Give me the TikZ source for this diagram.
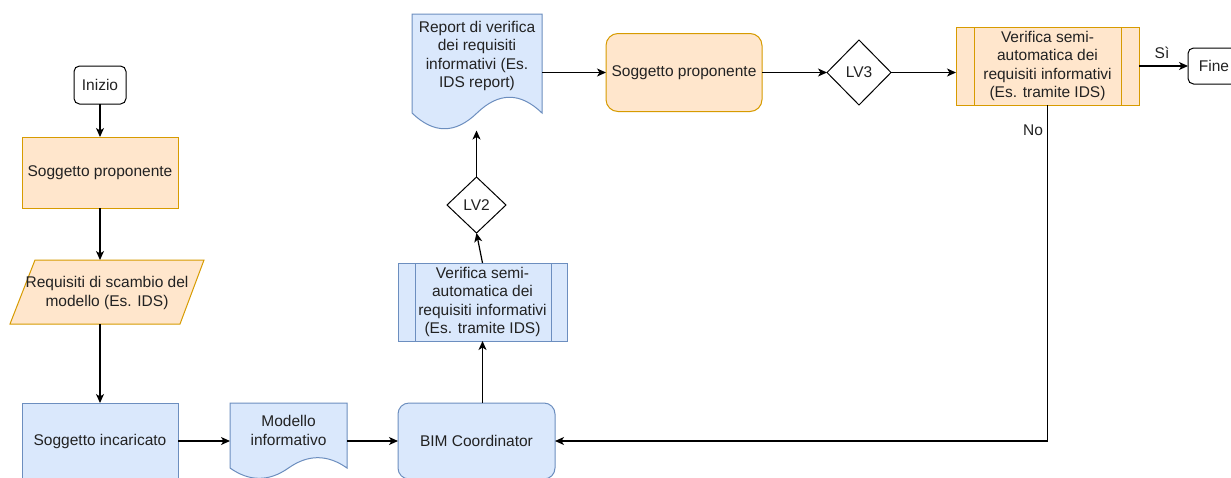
\documentclass[tikz,border=0pt]{standalone}
\usepackage{fontspec}
\setmainfont{Liberation Sans}
\usetikzlibrary{shapes.geometric,arrows.meta,calc}
\definecolor{ofill}{HTML}{FFE6CC}
\definecolor{ostroke}{HTML}{D79B00}
\definecolor{bfill}{HTML}{DAE8FC}
\definecolor{bstroke}{HTML}{6C8EBF}
\definecolor{txtc}{HTML}{222222}
\tikzset{
  base/.style={inner sep=0pt, outer sep=0pt, line width=1pt, text=txtc, align=center,
    font=\fontsize{15.5}{18.3}\selectfont},
  obox/.style={base, draw=ostroke, fill=ofill},
  bbox/.style={base, draw=bstroke, fill=bfill},
  term/.style={base, draw=black, fill=white, rounded corners=5.5pt},
  dec/.style={base, draw=black, fill=white, diamond},
  ghost/.style={base, draw=none},
  txt/.style={base, draw=none, fill=none},
  oshape/.style={line width=1pt, draw=ostroke, fill=ofill},
  bshape/.style={line width=1pt, draw=bstroke, fill=bfill},
  arr/.style={line width=1.2pt, draw=black, -{Stealth[length=9pt,width=8pt,inset=2.5pt]}},
}
\begin{document}
\begin{tikzpicture}[x=1pt,y=-1pt]
\useasboundingbox (0,0) rectangle (1231,477);
\fill[white] (0,0) rectangle (1231,477);

% left column
\node[term, minimum width=52pt, minimum height=38pt] (ini) at (100,85) {Inizio};
\node[obox, minimum width=156pt, minimum height=71pt] (sp1) at (100,172.5) {Soggetto proponente};
\path[oshape] (35,260) -- (204,260) -- (180,324) -- (10,324) -- cycle;
\node[ghost, minimum width=194pt, minimum height=64pt] (req) at (107,292) {};
\node[txt] (reqt) at (107,293) {Requisiti di scambio del\\modello (Es. IDS)};
\node[bbox, minimum width=156pt, minimum height=76pt] (si) at (100,441) {Soggetto incaricato};

% Modello informativo (document)
\path[bshape] (230,403) -- (347,403) -- (347,468)
  .. controls (327.5,454.23) and (308,454.23) .. (288.5,468)
  .. controls (269,481.77) and (249.5,481.77) .. (230,468) -- cycle;
\node[ghost, minimum width=117pt, minimum height=76.5pt] (mod) at (288.5,441.25) {};
\node[txt] (modt) at (288.5,430.5) {Modello\\informativo};

\node[bbox, rounded corners=11pt, minimum width=157pt, minimum height=76pt] (bim) at (476.5,441) {BIM Coordinator};

% Verifica (blue process)
\node[bbox, minimum width=169pt, minimum height=78pt] (vb) at (482.5,302) {Verifica semi-\\automatica dei\\requisiti informativi\\(Es. tramite IDS)};
\draw[line width=1pt, bstroke] ($(vb.north west)+(17,0)$) -- ($(vb.south west)+(17,0)$);
\draw[line width=1pt, bstroke] ($(vb.north east)+(-16,0)$) -- ($(vb.south east)+(-16,0)$);

\node[dec, minimum width=59pt, minimum height=56pt] (lv2) at (476.5,205) {LV2};

% Report (document)
\path[bshape] (412,14) -- (542,14) -- (542,113)
  .. controls (520.33,92.03) and (498.67,92.03) .. (477,113)
  .. controls (455.33,133.97) and (433.67,133.97) .. (412,113) -- cycle;
\node[ghost, minimum width=130pt, minimum height=116.5pt] (rep) at (477,72.25) {};
\node[txt] (rept) at (477,56) {Report di verifica\\dei requisiti\\informativi (Es.\\IDS report)};

\node[obox, rounded corners=12pt, minimum width=156pt, minimum height=78pt] (sp2) at (684,72.5) {Soggetto proponente};
\node[dec, minimum width=64pt, minimum height=65pt] (lv3) at (859,72.5) {LV3};

% Verifica (orange process)
\node[obox, minimum width=183pt, minimum height=78pt] (vo) at (1047.5,66) {Verifica semi-\\automatica dei\\requisiti informativi\\(Es. tramite IDS)};
\draw[line width=1pt, ostroke] ($(vo.north west)+(18,0)$) -- ($(vo.south west)+(18,0)$);
\draw[line width=1pt, ostroke] ($(vo.north east)+(-18,0)$) -- ($(vo.south east)+(-18,0)$);

\node[term, minimum width=52pt, minimum height=36pt] (fine) at (1214,66) {Fine};

% connectors
\draw[arr] (ini) -- (sp1);
\draw[arr] (sp1.south) -- (sp1.south |- req.north);
\draw[arr] (si.north |- req.south) -- (si.north);
\draw[arr] (si.east) -- (si.east -| mod.west);
\draw[arr] (bim.west -| mod.east) -- (bim.west);
\draw[arr] (vb.south |- bim.north) -- (vb.south);
\draw[arr] (vb.north) -- (lv2.south);
\draw[arr] (lv2.north) -- (lv2.north |- rep.south);
\draw[arr] (sp2.west -| rep.east) -- (sp2.west);
\draw[arr] (sp2.east) -- (lv3.west);
\draw[arr] (lv3.east) -- (lv3.east -| vo.west);
\draw[arr] (vo.east) -- (fine.west);
\node[txt] (si_lbl) at (1162,53) {Sì};
\draw[arr] (vo.south) |- (bim.east);
\node[txt] (no_lbl) at (1033,130) {No};
\end{tikzpicture}
\end{document}
